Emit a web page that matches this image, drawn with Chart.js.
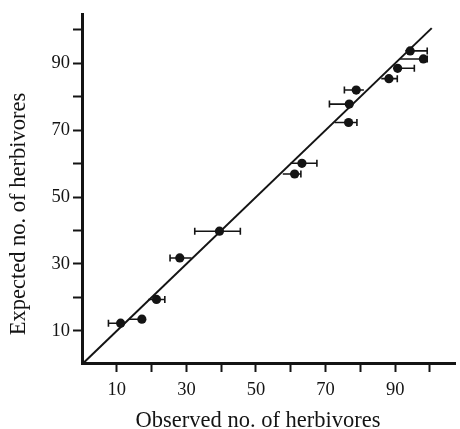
<!DOCTYPE html>
<html>
<head>
<meta charset="utf-8">
<script src="https://cdn.jsdelivr.net/npm/chart.js@4.4.1/dist/chart.umd.min.js"></script>
<style>
  html, body { margin: 0; padding: 0; background: #fff; }
  #wrap { width: 460px; height: 429px; }
</style>
</head>
<body>
<div id="wrap"><canvas id="c"></canvas></div>
<script>
// =========================
// DATA
// =========================
const observed = [11.1, 17.2, 21.4, 28.1, 39.5, 61.1, 63.2, 76.6, 76.8, 78.8, 88.2, 90.7, 94.3, 98.1];
const expected = [12.3, 13.5, 19.4, 31.8, 39.8, 56.9, 60.1, 72.3, 77.8, 82.0, 85.4, 88.5, 93.7, 91.3];
// horizontal error bars (observed range)
const errLow  = [7.6, 13.5, 19.0, 25.3, 32.4, 57.7, 59.9, 72.6, 71.1, 75.4, 86.0, 89.5, 92.9, 91.4];
const errHigh = [11.1, 17.9, 23.8, 31.5, 45.5, 62.9, 67.5, 79.0, 77.4, 81.0, 90.6, 95.5, 99.2, 99.2];

// 1:1 line
const lineX = [0.4, 100.5];
const lineY = [0.4, 100.5];

const tickValues = [10, 20, 30, 40, 50, 60, 70, 80, 90, 100];
const labeledTicks = [10, 30, 50, 70, 90];

const INK = "#141414";
const FONT = '"Liberation Serif", "DejaVu Serif", serif';

// =========================
// ERROR BARS
// =========================
const errorBars = {
    id: "errorBars",
    beforeDatasetsDraw(chart){
        const ctx = chart.ctx;
        const xs = chart.scales.x, ys = chart.scales.y;
        ctx.save();
        ctx.strokeStyle = INK;
        ctx.lineWidth = 1.6;
        observed.forEach((x, i) => {
            const py = ys.getPixelForValue(expected[i]);
            const x1 = xs.getPixelForValue(errLow[i]);
            const x2 = xs.getPixelForValue(errHigh[i]);
            ctx.beginPath();
            ctx.moveTo(x1, py);
            ctx.lineTo(x2, py);
            // cap only where the bar does not end on the 1:1 line
            [[errLow[i], x1], [errHigh[i], x2]].forEach(([v, px]) => {
                if(Math.abs(v - expected[i]) > 1.5){
                    ctx.moveTo(px, py - 3.5);
                    ctx.lineTo(px, py + 3.5);
                }
            });
            ctx.stroke();
        });
        ctx.restore();
    }
};

// =========================
// AXIS TITLES
// =========================
const axisTitles = {
    id: "axisTitles",
    afterDraw(chart){
        const ctx = chart.ctx;
        ctx.save();
        ctx.fillStyle = INK;
        ctx.font = "22.5px " + FONT;
        ctx.textAlign = "center";
        ctx.textBaseline = "alphabetic";
        ctx.fillText("Observed no. of herbivores", 258, 427);
        ctx.translate(25, 214);
        ctx.rotate(-Math.PI / 2);
        ctx.fillText("Expected no. of herbivores", 0, 0);
        ctx.restore();
    }
};

function axis(min, max, size, isX){
    return {
        type: "linear",
        min: min,
        max: max,
        afterBuildTicks(s){
            s.ticks = tickValues.map(v => ({ value: v }));
        },
        afterFit(s){
            if(isX) s.height = size; else s.width = size;
        },
        border: { display: true, color: INK, width: 3 },
        grid: {
            drawOnChartArea: false,
            drawTicks: true,
            tickLength: 9,
            tickWidth: 2,
            tickColor: INK
        },
        ticks: {
            autoSkip: false,
            maxRotation: 0,
            padding: isX ? 7 : 3,
            color: INK,
            font: { family: FONT, size: 18.5 },
            callback: v => labeledTicks.includes(v) ? String(v) : ""
        }
    };
}

new Chart(document.getElementById("c").getContext("2d"), {
    type: "scatter",
    data: {
        datasets: [
            {
                data: observed.map((x, i) => ({ x: x, y: expected[i] })),
                pointRadius: 4.6,
                pointBackgroundColor: INK,
                pointBorderWidth: 0,
                order: 1
            },
            {
                type: "line",
                data: lineX.map((x, i) => ({ x: x, y: lineY[i] })),
                borderColor: INK,
                borderWidth: 2,
                pointRadius: 0,
                fill: false,
                order: 2
            }
        ]
    },
    options: {
        responsive: true,
        maintainAspectRatio: false,
        animation: false,
        layout: { padding: { top: 13, right: 3, left: 0, bottom: 0 } },
        plugins: {
            legend: { display: false },
            tooltip: { enabled: false }
        },
        scales: {
            x: axis(0, 107.3, 66, true),
            y: axis(0.4, 104.7, 82, false)
        }
    },
    plugins: [errorBars, axisTitles]
});
</script>
</body>
</html>
